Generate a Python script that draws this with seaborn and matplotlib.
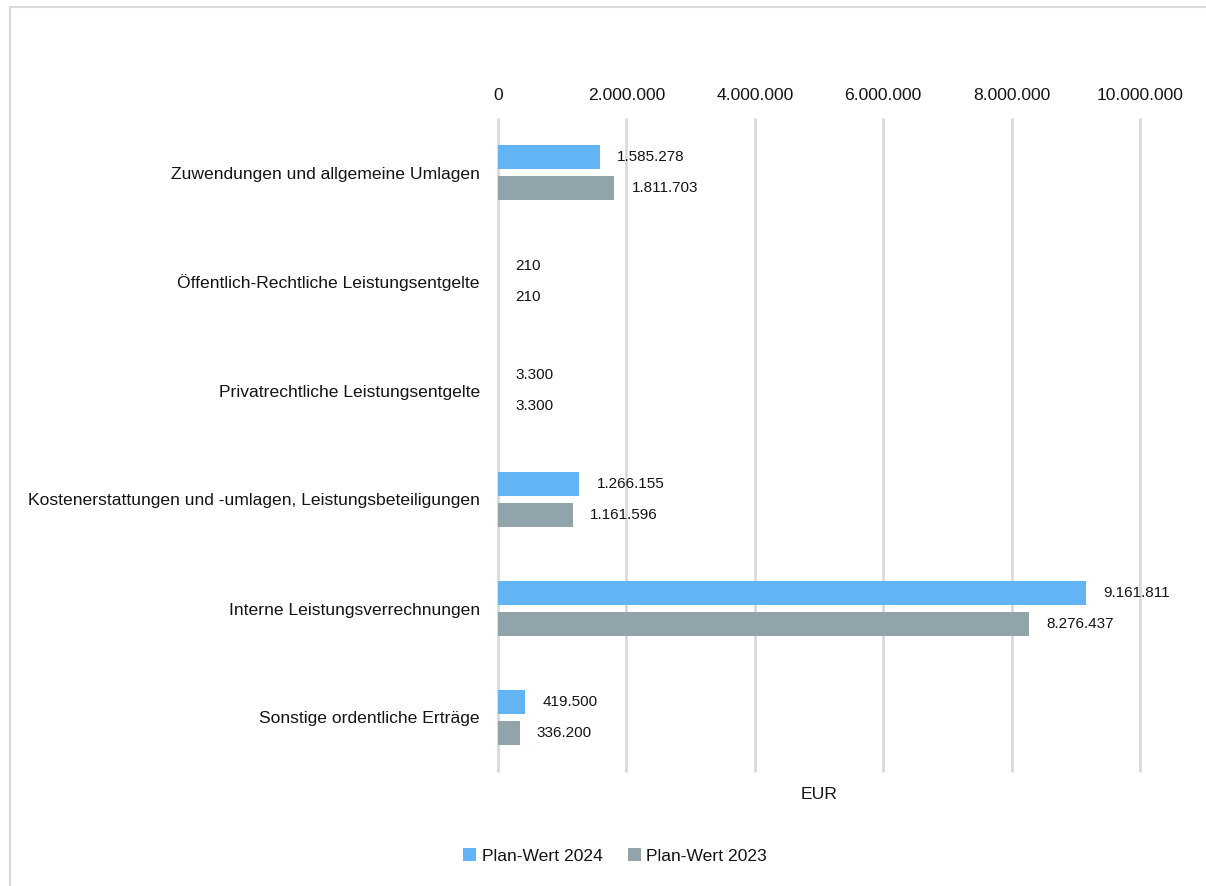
import matplotlib
matplotlib.use("Agg")
import matplotlib.pyplot as plt
import seaborn as sns
import pandas as pd
from matplotlib.patches import Rectangle
from matplotlib.ticker import FixedLocator, FuncFormatter

# Ertragsarten und Planwerte (EUR)
categories = [
    "Zuwendungen und allgemeine Umlagen",
    "Öffentlich-Rechtliche Leistungsentgelte",
    "Privatrechtliche Leistungsentgelte",
    "Kostenerstattungen und -umlagen, Leistungsbeteiligungen",
    "Interne Leistungsverrechnungen",
    "Sonstige ordentliche Erträge",
]
plan_2024 = [1585278, 210, 3300, 1266155, 9161811, 419500]
plan_2023 = [1811703, 210, 3300, 1161596, 8276437, 336200]
series_names = ["Plan-Wert 2024", "Plan-Wert 2023"]
x_ticks = [0, 2000000, 4000000, 6000000, 8000000, 10000000]
axis_title = "EUR"

colors = ["#63B4F4", "#91A4AC"]
grid_color = "#D9D9D9"
text_color = "#141414"


def de_format(v):
    return f"{int(round(v)):,}".replace(",", ".")


df = pd.DataFrame({
    "Kategorie": categories * 2,
    "Wert": plan_2024 + plan_2023,
    "Serie": [series_names[0]] * len(categories) + [series_names[1]] * len(categories),
})

sns.set_theme(style="white")
plt.rcParams["font.family"] = ["Liberation Sans", "DejaVu Sans"]
plt.rcParams["text.color"] = text_color

fig = plt.figure(figsize=(12.06, 8.86), dpi=100)
ax = fig.add_axes([498 / 1206, 1 - 772 / 886, (1140 - 498) / 1206, (772 - 118) / 886])

sns.barplot(
    data=df, y="Kategorie", x="Wert", hue="Serie",
    order=categories, hue_order=series_names,
    palette=colors, orient="h", width=0.57, gap=0.22,
    saturation=1, linewidth=0, ax=ax,
)

ax.set_xlim(0, 10000000)
ax.xaxis.tick_top()
ax.xaxis.set_major_locator(FixedLocator(x_ticks))
ax.xaxis.set_major_formatter(FuncFormatter(lambda v, p: de_format(v)))
ax.tick_params(axis="x", length=0, pad=11, labelsize=12.6, labelcolor=text_color)
ax.tick_params(axis="y", length=0, pad=13, labelsize=12.6, labelcolor=text_color)
ax.set_xlabel("")
ax.set_ylabel("")
ax.grid(axis="x", color=grid_color, linewidth=2)
ax.grid(axis="y", visible=False)
ax.set_axisbelow(True)
for gl in ax.get_xgridlines():
    gl.set_clip_on(False)
    gl.set_solid_capstyle("butt")
for s in ax.spines.values():
    s.set_visible(False)

# Datenbeschriftungen rechts neben den Balken
for container, vals in zip(ax.containers, [plan_2024, plan_2023]):
    ax.bar_label(container, labels=[de_format(v) for v in vals], padding=12.5,
                 fontsize=11.0, color=text_color)

ax.text(0.5, -0.035, axis_title, transform=ax.transAxes, ha="center", va="center",
        fontsize=12.6, color=text_color)

handles, labels = ax.get_legend_handles_labels()
if ax.legend_ is not None:
    ax.legend_.remove()
fig.legend(handles, labels, loc="center", bbox_to_anchor=(615 / 1206, 1 - 856 / 886),
           ncol=2, frameon=False, fontsize=12.6, handlelength=0.75, handleheight=0.75,
           handletextpad=0.3, columnspacing=1.45)

# Rahmen des Diagrammbereichs
fig.add_artist(Rectangle((9.5 / 1206, -0.1), 1.2, 1.1 - 7.0 / 886, fill=False,
                         edgecolor=grid_color, linewidth=1.5, transform=fig.transFigure))

fig.savefig("out.png", dpi=100)
